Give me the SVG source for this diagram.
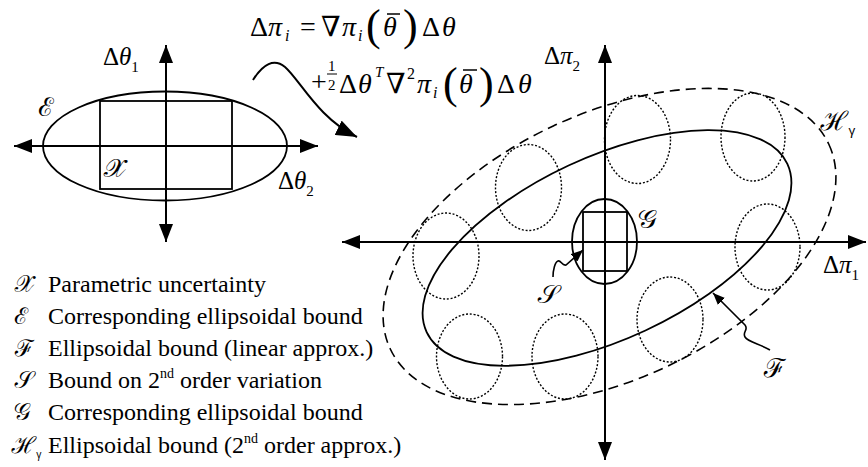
<svg xmlns="http://www.w3.org/2000/svg" width="868" height="467" viewBox="0 0 868 467">
<style>
.ln{stroke:#000;stroke-width:2;fill:none}
.el{stroke:#000;stroke-width:1.8;fill:none}
.dash{stroke:#000;stroke-width:1.6;fill:none;stroke-dasharray:10 6}
.dot{stroke:#000;stroke-width:1.4;fill:none;stroke-dasharray:2 1.8}
.bar{stroke:#000;stroke-width:1.5}
text{font-family:"Liberation Serif","DejaVu Serif",serif;fill:#000}
.it{font-style:italic}
.m{font-size:25px}
.f{font-size:28px}
.sub{font-size:16px}
.par{font-size:44px}
.lg{font-size:24px}
.scr{font-family:"Noto Sans Math","STIX Two Math","DejaVu Serif",serif;font-size:26px}
.lsym{font-family:"Noto Sans Math","STIX Two Math","DejaVu Serif",serif;font-size:23px}
</style>
<defs>
<marker id="ah" markerUnits="userSpaceOnUse" markerWidth="19" markerHeight="14" refX="18" refY="7" orient="auto-start-reverse" viewBox="0 0 19 14"><path d="M0,0 L18,7 L0,14 z" fill="#000"/></marker>
<marker id="ahs" markerUnits="userSpaceOnUse" markerWidth="13" markerHeight="10" refX="12" refY="5" orient="auto" viewBox="0 0 13 10"><path d="M0,0 L12,5 L0,10 z" fill="#000"/></marker>
<marker id="ahc" markerUnits="userSpaceOnUse" markerWidth="22" markerHeight="16" refX="21" refY="8" orient="auto" viewBox="0 0 22 16"><path d="M0,0 L21,8 L0,16 z" fill="#000"/></marker>
</defs>
<rect width="868" height="467" fill="#fff"/>

<!-- Left diagram -->
<g id="left-axes">
<line class="ln" x1="14" y1="146" x2="318" y2="146" marker-start="url(#ah)" marker-end="url(#ah)"/>
<line class="ln" x1="166" y1="242" x2="166" y2="45" marker-start="url(#ah)" marker-end="url(#ah)"/>
<text class="m" x="103" y="65">Δ<tspan class="it">θ</tspan><tspan font-size="15" dy="7">1</tspan></text>
<text class="m" x="278" y="189">Δ<tspan class="it">θ</tspan><tspan font-size="15" dy="7">2</tspan></text>
</g>
<g id="node-E">
<ellipse class="el" cx="165" cy="146" rx="122" ry="54.5"/>
<text class="scr" x="38" y="116">ℰ</text>
</g>
<g id="node-X">
<rect class="el" x="100" y="101" width="132" height="88"/>
<text class="scr" x="103" y="177">𝒳</text>
</g>

<!-- Formula -->
<g id="formula">
<text class="f" x="250" y="36">Δ</text>
<text class="f it" x="268" y="36">π</text>
<text class="sub it" x="285" y="41">i</text>
<text class="f" x="300" y="36">=</text>
<text class="f" x="321" y="36">∇</text>
<text class="f it" x="342" y="36">π</text>
<text class="sub it" x="358" y="41">i</text>
<text class="par" x="366" y="40">(</text>
<text class="f it" x="383" y="36">θ</text>
<line class="bar" x1="387" y1="14" x2="400" y2="14"/>
<text class="par" x="403" y="40">)</text>
<text class="f" x="422" y="36">Δ</text>
<text class="f it" x="442" y="36">θ</text>

<text class="f" x="311" y="91">+</text>
<text font-size="15" x="328" y="71">1</text>
<line x1="327" y1="74" x2="337" y2="74" stroke="#000" stroke-width="1"/>
<text font-size="15" x="328" y="90">2</text>
<text class="f" x="339" y="93">Δ</text>
<text class="f it" x="358" y="93">θ</text>
<text class="it" font-size="15" x="375" y="77">T</text>
<text class="f" x="386" y="93">∇</text>
<text class="sub" x="407" y="79">2</text>
<text class="f it" x="417" y="93">π</text>
<text class="sub it" x="433" y="98">i</text>
<text class="par" x="443" y="98">(</text>
<text class="f it" x="459" y="93">θ</text>
<line class="bar" x1="463" y1="70" x2="477" y2="70"/>
<text class="par" x="479" y="98">)</text>
<text class="f" x="497" y="93">Δ</text>
<text class="f it" x="518" y="93">θ</text>
</g>

<!-- Right diagram -->
<g id="right-axes">
<line class="ln" x1="342" y1="242" x2="866" y2="242" marker-start="url(#ah)" marker-end="url(#ah)"/>
<line class="ln" x1="605" y1="460" x2="605" y2="45" marker-start="url(#ah)" marker-end="url(#ah)"/>
<text class="m" x="544" y="64">Δ<tspan class="it">π</tspan><tspan font-size="15" dy="7">2</tspan></text>
<text class="m" x="823" y="273">Δ<tspan class="it">π</tspan><tspan font-size="15" dy="7">1</tspan></text>
</g>
<g id="node-H">
<ellipse class="dash" cx="609.5" cy="246.5" rx="242" ry="133" transform="rotate(-25 609.5 246.5)"/>
<text class="scr" x="820" y="130">ℋ<tspan font-size="13" dy="5">γ</tspan></text>
</g>
<g id="node-F">
<ellipse class="el" cx="607" cy="248" rx="199" ry="91" transform="rotate(-25 607 248)"/>
<text class="scr" x="763" y="377">ℱ</text>
</g>
<g id="dotted-ellipses">
<ellipse class="dot" cx="528.5" cy="187.5" rx="33" ry="43"/>
<ellipse class="dot" cx="637.5" cy="139.5" rx="33" ry="44"/>
<ellipse class="dot" cx="753" cy="137" rx="32" ry="44"/>
<ellipse class="dot" cx="767.5" cy="247" rx="32.5" ry="43"/>
<ellipse class="dot" cx="446" cy="256" rx="33" ry="43"/>
<ellipse class="dot" cx="469.5" cy="356.5" rx="33" ry="42.5"/>
<ellipse class="dot" cx="565" cy="356.5" rx="33" ry="42.5"/>
<ellipse class="dot" cx="670" cy="319.5" rx="33" ry="42.5"/>
</g>
<g id="node-G">
<ellipse class="el" cx="604.5" cy="241.5" rx="32.5" ry="42.5"/>
<text class="scr" x="638" y="228">𝒢</text>
</g>
<g id="node-S">
<rect class="el" x="583" y="212" width="44" height="59"/>
<text class="scr" x="537" y="303">𝒮</text>
</g>

<g id="connectors">
<path class="ln" d="M253,80 C263,64 274,58 285,67 C300,80 318,118 357,137" marker-end="url(#ahc)"/>
<path d="M553,277 C553,270 555,262 558,261 C561,260 562,266 566,265 L583,250" fill="none" stroke="#000" stroke-width="1.6" marker-end="url(#ahs)"/>
<path d="M770,350 C760,344 748,342 745,337 C742,332 749,330 745,325 L713,293" fill="none" stroke="#000" stroke-width="1.6" marker-end="url(#ahs)"/>
</g>

<!-- Legend -->
<g id="legend">
<text class="lsym" x="14" y="292">𝒳</text><text class="lg" x="48" y="292">Parametric uncertainty</text>
<text class="lsym" x="14" y="324">ℰ</text><text class="lg" x="48" y="324">Corresponding ellipsoidal bound</text>
<text class="lsym" x="14" y="356">ℱ</text><text class="lg" x="48" y="356">Ellipsoidal bound (linear approx.)</text>
<text class="lsym" x="14" y="388">𝒮</text><text class="lg" x="48" y="388">Bound on 2<tspan font-size="14" dy="-10">nd</tspan><tspan dy="10"> order variation</tspan></text>
<text class="lsym" x="14" y="420">𝒢</text><text class="lg" x="48" y="420">Corresponding ellipsoidal bound</text>
<text class="lsym" x="11" y="453">ℋ<tspan font-size="10" dy="5">γ</tspan></text><text class="lg" x="48" y="453">Ellipsoidal bound (2<tspan font-size="14" dy="-10">nd</tspan><tspan dy="10"> order approx.)</tspan></text>
</g>
</svg>
